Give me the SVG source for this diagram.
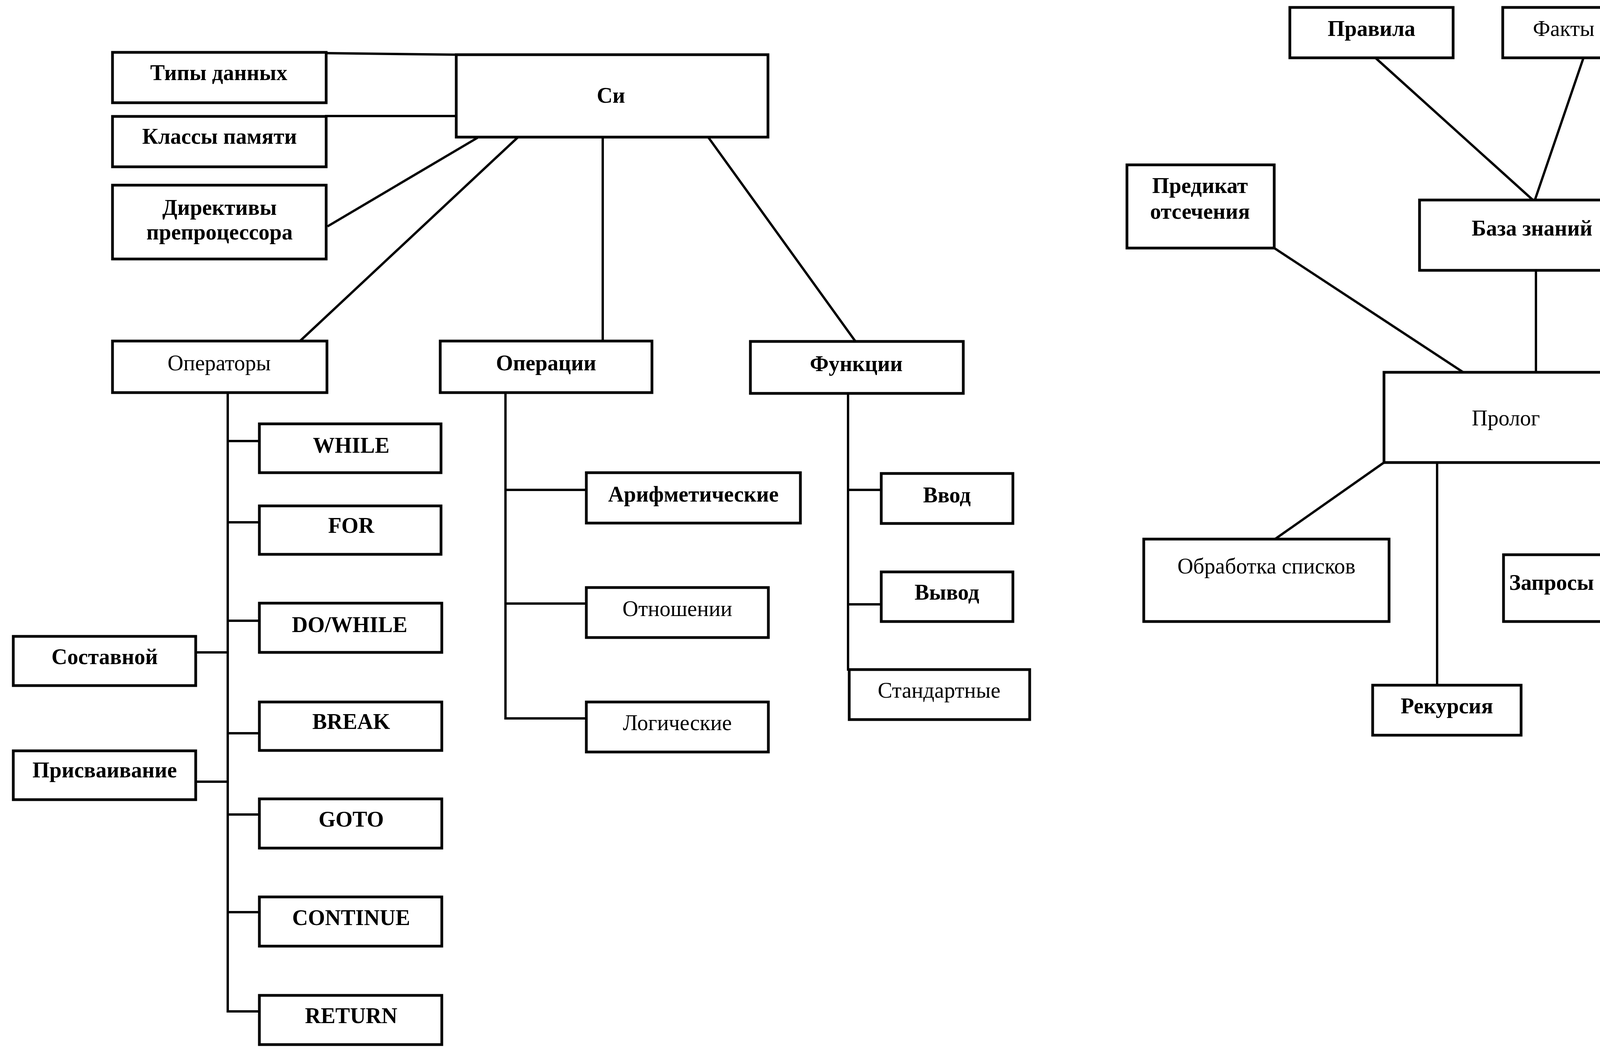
<svg xmlns="http://www.w3.org/2000/svg" width="4432" height="2716" viewBox="0 0 4432 2716">
<style>
.b{fill:#fff;stroke:#000;stroke-width:7}
.c{fill:none;stroke:#000;stroke-width:6;stroke-linecap:square}
text{font-family:"Liberation Serif","DejaVu Serif",serif;font-size:56px;text-anchor:middle;fill:#000}
.w{font-weight:bold}
</style>
<rect width="4432" height="2716" fill="#fff"/>
<g id="connectors">
<path class="c" d="M835 136 L1168 140"/>
<path class="c" d="M835 297 L1168 297"/>
<path class="c" d="M841 578 L1220 354"/>
<path class="c" d="M1323 354 L768 873"/>
<path class="c" d="M1543 351 L1543 873"/>
<path class="c" d="M1810 347 L2190 874"/>
<path class="c" d="M583 1005 L583 2589"/>
<path class="c" d="M583 1129 L664 1129 M583 1337 L664 1337 M583 1589 L664 1589 M583 1877 L664 1877 M583 2085 L664 2085 M583 2335 L664 2335 M583 2589 L664 2589"/>
<path class="c" d="M501 1670 L583 1670 M501 2001 L583 2001"/>
<path class="c" d="M1294 1005 L1294 1839 L1501 1839 M1294 1254 L1501 1254 M1294 1545 L1501 1545"/>
<path class="c" d="M2171 1007 L2171 1714 M2171 1254 L2256 1254 M2171 1547 L2256 1547"/>
<path class="c" d="M3521 148 L3922 510"/>
<path class="c" d="M4053 150 L3930 510"/>
<path class="c" d="M3932 692 L3932 953"/>
<path class="c" d="M3262 635 L3743 951"/>
<path class="c" d="M3543 1184 L3264 1380"/>
<path class="c" d="M3679 1184 L3679 1754"/>
<path class="c" d="M4143 1184 L4143 1420"/>
</g>
<g id="n-tipy"><rect class="b" x="288" y="134" width="547" height="129"/><text class="w" x="560" y="205">Типы данных</text></g>
<g id="n-klassy"><rect class="b" x="288" y="298" width="547" height="129"/><text class="w" x="562" y="368">Классы памяти</text></g>
<g id="n-direktivy"><rect class="b" x="288" y="474" width="547" height="189"/><text class="w" x="562" y="550">Директивы</text><text class="w" x="562" y="613">препроцессора</text></g>
<g id="n-si"><rect class="b" x="1168" y="140" width="798" height="211"/><text class="w" x="1564" y="263" font-size="64">Си</text></g>
<g id="n-operatory"><rect class="b" x="288" y="873" width="549" height="132"/><text x="561" y="948">Операторы</text></g>
<g id="n-operacii"><rect class="b" x="1127" y="873" width="542" height="132"/><text class="w" x="1398" y="948">Операции</text></g>
<g id="n-funkcii"><rect class="b" x="1921" y="874" width="545" height="133"/><text class="w" x="2192" y="950">Функции</text></g>
<g id="n-while"><rect class="b" x="664" y="1085" width="465" height="125"/><text class="w" x="899" y="1159">WHILE</text></g>
<g id="n-for"><rect class="b" x="664" y="1295" width="465" height="124"/><text class="w" x="899" y="1364">FOR</text></g>
<g id="n-dowhile"><rect class="b" x="664" y="1544" width="467" height="126"/><text class="w" x="895" y="1618">DO/WHILE</text></g>
<g id="n-break"><rect class="b" x="664" y="1797" width="467" height="124"/><text class="w" x="899" y="1866">BREAK</text></g>
<g id="n-goto"><rect class="b" x="664" y="2045" width="467" height="126"/><text class="w" x="899" y="2116">GOTO</text></g>
<g id="n-continue"><rect class="b" x="664" y="2296" width="467" height="126"/><text class="w" x="899" y="2368">CONTINUE</text></g>
<g id="n-return"><rect class="b" x="664" y="2548" width="467" height="126"/><text class="w" x="899" y="2619">RETURN</text></g>
<g id="n-sostavnoy"><rect class="b" x="34" y="1629" width="467" height="126"/><text class="w" x="268" y="1700">Составной</text></g>
<g id="n-prisvaivanie"><rect class="b" x="34" y="1922" width="467" height="125"/><text class="w" x="268" y="1990">Присваивание</text></g>
<g id="n-arifm"><rect class="b" x="1501" y="1210" width="548" height="129"/><text class="w" x="1775" y="1284">Арифметические</text></g>
<g id="n-otnosh"><rect class="b" x="1501" y="1504" width="466" height="128"/><text x="1734" y="1577">Отношении</text></g>
<g id="n-logich"><rect class="b" x="1501" y="1797" width="466" height="128"/><text x="1734" y="1869">Логические</text></g>
<g id="n-vvod"><rect class="b" x="2256" y="1212" width="337" height="128"/><text class="w" x="2424" y="1286">Ввод</text></g>
<g id="n-vyvod"><rect class="b" x="2256" y="1464" width="337" height="127"/><text class="w" x="2424" y="1535">Вывод</text></g>
<g id="n-standart"><rect class="b" x="2174" y="1714" width="462" height="128"/><text x="2404" y="1786">Стандартные</text></g>
<g id="n-pravila"><rect class="b" x="3302" y="19" width="418" height="129"/><text class="w" x="3511" y="92">Правила</text></g>
<g id="n-fakty"><rect class="b" x="3847" y="19" width="421" height="129"/><text x="4003" y="92">Факты</text></g>
<g id="n-predikat"><rect class="b" x="2885" y="422" width="377" height="213"/><text class="w" x="3072" y="494">Предикат</text><text class="w" x="3072" y="560">отсечения</text></g>
<g id="n-baza"><rect class="b" x="3634" y="512" width="627" height="180"/><text class="w" x="3922" y="603">База знаний</text></g>
<g id="n-prolog"><rect class="b" x="3543" y="953" width="629" height="231"/><text x="3855" y="1089">Пролог</text></g>
<g id="n-obrabotka"><rect class="b" x="2928" y="1380" width="628" height="211"/><text x="3242" y="1468">Обработка списков</text></g>
<g id="n-zaprosy"><rect class="b" x="3849" y="1420" width="547" height="171"/><text class="w" x="3972" y="1510">Запросы</text></g>
<g id="n-rekursiya"><rect class="b" x="3514" y="1754" width="380" height="128"/><text class="w" x="3704" y="1826">Рекурсия</text></g>
</svg>
